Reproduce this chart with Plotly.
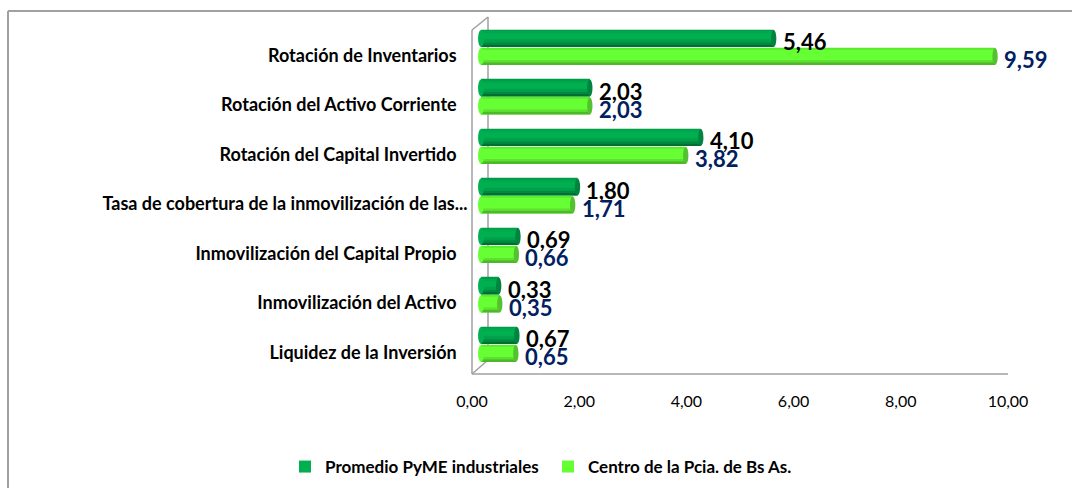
import plotly.graph_objects as go

W, H = 1072, 488
PAD = "\u00a0\u00a0\u2009"
categories = ["Rotación de Inventarios" + PAD, "Rotación del Activo Corriente" + PAD, "Rotación del Capital Invertido" + PAD,
              "Tasa de cobertura de la inmovilización de las...", "Inmovilización del Capital Propio" + PAD,
              "Inmovilización del Activo" + PAD, "Liquidez de la Inversión" + PAD]
pyme = [5.46, 2.03, 4.10, 1.80, 0.69, 0.33, 0.67]
centro = [9.59, 2.03, 3.82, 1.71, 0.66, 0.35, 0.65]
pyme_name = "Promedio PyME industriales"
centro_name = "Centro de la Pcia. de Bs As."
tick_vals = [0, 2, 4, 6, 8, 10]
tick_text = ["0,00", "2,00", "4,00", "6,00", "8,00", "10,00"]
ids = list(range(len(categories)))

FONT = "Lato"
fig = go.Figure()

# (fraction start, fraction end, colour) across each cylinder, top to bottom
dark_layers = [(0, 1, "#00B050"), (0, .1, "#009A48"), (.1, .2, "#00A84D"), (.55, .72, "#00A04A"), (.72, .86, "#008A40"), (.86, 1, "#006F35")]
light_layers = [(0, 1, "#66FF33"), (0, .08, "#5CE830"), (.7, .84, "#5FE030"), (.84, 1, "#4DB82A")]

def cylinder(vals, top, height, layers, name, cap):
    for i, (a, b, col) in enumerate(layers):
        fig.add_bar(y=ids, x=vals, orientation="h", base=0, offset=top + a * height, width=(b - a) * height,
                    marker=dict(color=col, line=dict(width=0)), name=name, showlegend=i == 0, hoverinfo="skip")
    for j, v in zip(ids, vals):
        fig.add_shape(type="circle", xref="x", yref="y", x0=v - .05, x1=v + .05, y0=j + top, y1=j + top + height,
                      fillcolor=cap, line=dict(width=0), layer="above")
        fig.add_shape(type="circle", xref="x", yref="y", x0=-.055, x1=.055, y0=j + top, y1=j + top + height,
                      fillcolor=layers[0][2], line=dict(width=0), layer="above")

cylinder(pyme, -.354, .344, dark_layers, pyme_name, "#00843F")
cylinder(centro, .01, .344, light_layers, centro_name, "#55C030")

def px_x(p): return p / W
def px_y(p): return 1 - p / H

# frame and 3D walls
for x0, y0, x1, y1, w in [(8, 11, 1072, 11, 2), (8, 11, 8, 488, 2), (472, 374, 1008, 374, 1.5), (472, 30, 472, 374, 1.5),
                          (472, 30, 488, 17, 1.5), (488, 17, 488, 358, 1.5), (472, 374, 488, 360, 1.5)]:
    fig.add_shape(type="line", xref="paper", yref="paper", x0=px_x(x0), x1=px_x(x1), y0=px_y(y0), y1=px_y(y1),
                  line=dict(color="#A0A0A0", width=w), layer="below")

for j, v, in zip(ids, pyme):
    fig.add_annotation(x=v, y=j, text=f"<b>{v:.2f}</b>".replace(".", ","), showarrow=False, xanchor="left", yanchor="middle",
                       xshift=7, yshift=6, font=dict(family=FONT, size=22, color="#000000"))
for j, v in zip(ids, centro):
    fig.add_annotation(x=v, y=j, text=f"<b>{v:.2f}</b>".replace(".", ","), showarrow=False, xanchor="left", yanchor="middle",
                       xshift=7, yshift=-12, font=dict(family=FONT, size=22, color="#002060"))

fig.update_layout(
    width=W, height=H, margin=dict(l=0, r=0, t=0, b=0, autoexpand=False), barmode="overlay", paper_bgcolor="white", plot_bgcolor="rgba(0,0,0,0)",
    font=dict(family=FONT, color="#000000"), showlegend=True,
    legend=dict(orientation="h", x=px_x(285), y=px_y(449), xanchor="left", yanchor="top", traceorder="normal",
                font=dict(family=FONT, size=17, color="#000000", weight="bold"), entrywidth=218, entrywidthmode="pixels", itemwidth=30, bgcolor="rgba(0,0,0,0)"),
    xaxis=dict(domain=[px_x(475.64), px_x(1017)], range=[-0.1, 10], tickvals=tick_vals, ticktext=tick_text, showgrid=False, zeroline=False, automargin=False,
               showline=False, ticks="", ticklabelshift=-9, ticklabelstandoff=21, tickfont=dict(family=FONT, size=16, color="#000000")),
    yaxis=dict(domain=[px_y(369.25), px_y(22.75)], range=[6.5, -0.5], tickvals=ids, ticktext=categories, showgrid=False, zeroline=False, automargin=False,
               showline=False, ticks="", ticklabelshift=-8, ticklabelstandoff=7, tickfont=dict(family=FONT, size=18, color="#000000", weight="bold")),
)
fig.write_html("out.html", config=dict(displayModeBar=False), post_script="document.body.style.margin='0';window.dispatchEvent(new Event('resize'));")
